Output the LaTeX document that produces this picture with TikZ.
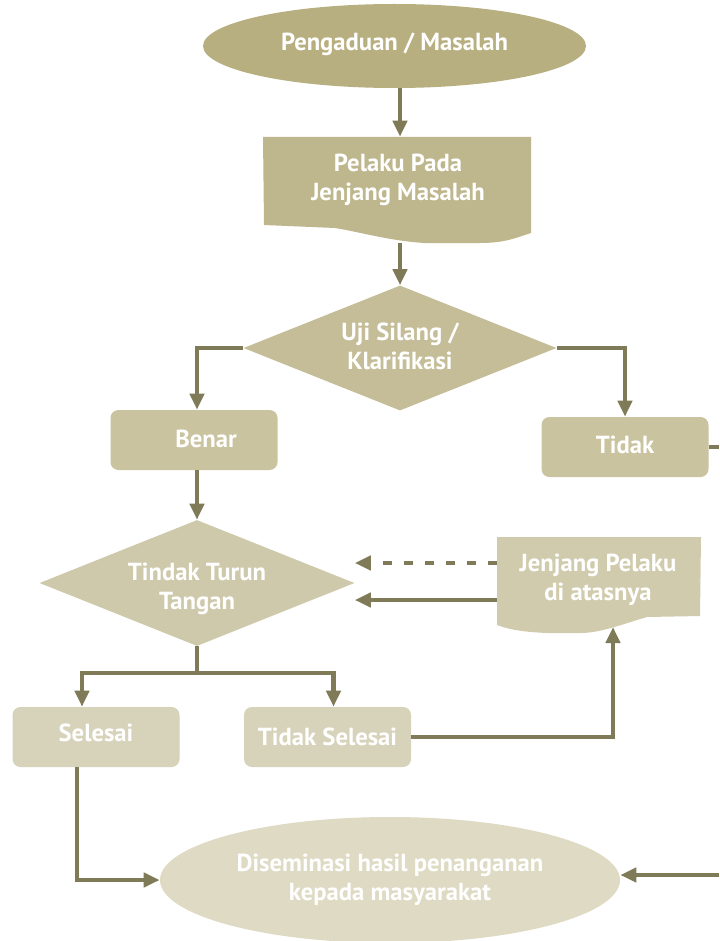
\documentclass[tikz,border=0pt]{standalone}
\usepackage{fontspec}
\setmainfont{PT Sans}
\usetikzlibrary{shapes.geometric,arrows.meta}
\definecolor{lnc}{HTML}{7F7A57}
\definecolor{cA}{HTML}{B8AF80}
\definecolor{cB}{HTML}{BEB68C}
\definecolor{cC}{HTML}{C4BD97}
\definecolor{cD}{HTML}{CAC3A0}
\definecolor{cE}{HTML}{CFC9AC}
\definecolor{cF}{HTML}{D1CBAD}
\definecolor{cG}{HTML}{D7D2BA}
\definecolor{cH}{HTML}{DEDAC3}
\def\u{0.75pt}
\tikzset{
  lbl/.style={text=white,font=\bfseries\fontsize{18.5}{21.75}\selectfont,align=center,inner sep=0pt},
  ell/.style={ellipse,inner sep=0pt,lbl},
  dia/.style={diamond,inner sep=0pt},
  rbox/.style={rectangle,rounded corners=6pt,inner sep=0pt,lbl,minimum width=167*\u,minimum height=60*\u},
  ghost/.style={rectangle,inner sep=0pt},
  conn/.style={draw=lnc,line width=3.2pt},
  arr/.style={conn,-{Triangle[length=12pt,width=10.5pt]}},
}
\begin{document}
\begin{tikzpicture}[x=0.75pt,y=-0.75pt]
\useasboundingbox (0,0) rectangle (719,941);
\fill[white] (0,0) rectangle (719,941);

% start ellipse
\node[ell,fill=cA,minimum width=383*\u,minimum height=84*\u] (start) at (394.5,46) {\raisebox{7pt}{Pengaduan / Masalah}};

% Pelaku document
\fill[cB] (263,137) -- (531,137) -- (531,233) .. controls (515,238) and (505,243) .. (480,243) -- (425,243) .. controls (390,241) and (360,232) .. (335,228) -- (264,225) -- cycle;
\node[ghost,minimum width=268*\u,minimum height=106*\u] (pelaku) at (400,190) {};
\node[lbl] (pelakut) at (398,180) {Pelaku Pada\\Jenjang Masalah};

% Uji diamond
\node[dia,fill=cC,minimum width=313*\u,minimum height=125*\u] (uji) at (400,348) {};
\node[lbl] (ujit) at (400,346) {Uji Silang /\\Klarifikasi};

% Benar / Tidak
\node[rbox,fill=cD] (benar) at (194,440) {\hspace*{18pt}\raisebox{2pt}{Benar}};
\node[rbox,fill=cD] (tidak) at (625,447) {\raisebox{3pt}{Tidak}};

% Tindak diamond
\node[dia,fill=cE,minimum width=315*\u,minimum height=126*\u] (tindak) at (197,583) {};
\node[lbl] (tindakt) at (197,589) {Tindak Turun\\Tangan};

% Jenjang document
\fill[cF] (497,537) -- (701,537) -- (700,616) -- (647,617) .. controls (620,625) and (600,633) .. (580,633) -- (547,633) .. controls (525,632) and (510,630) .. (497,625) -- cycle;
\node[ghost,minimum width=204*\u,minimum height=96*\u] (jenjang) at (599,585) {};
\node[lbl] (jenjangt) at (598,580) {Jenjang Pelaku\\di atasnya};

% Selesai / Tidak Selesai
\node[rbox,fill=cG] (selesai) at (96,737) {\raisebox{6pt}{Selesai}};
\node[rbox,fill=cG] (tselesai) at (327.5,737) {Tidak Selesai};

% Diseminasi ellipse
\node[ell,fill=cH,minimum width=460*\u,minimum height=126*\u] (dis) at (390,880) {Diseminasi hasil penanganan\\kepada masyarakat};

% coordinates
\coordinate (offr1) at (719,450);
\coordinate (offr2) at (719,875);
\coordinate (jin) at (613,627);
\coordinate (jd) at ([yshift=16.5pt]jenjang.west);
\coordinate (js) at ([yshift=-11.25pt]jenjang.west);
\coordinate (split) at ([yshift=-20pt]tindak.south);

% connectors
\draw[arr] (pelaku.north |- start.south) -- (pelaku.north);
\draw[arr] (pelaku.south) -- (uji.north);
\draw[arr] (uji.west) -| (tindak.north |- benar.north);
\draw[arr] (uji.east) -| (tidak.north);
\draw[conn] (tidak.east) -- (tidak.east -| offr1);
\draw[arr] (tindak.north |- benar.south) -- (tindak.north);
\draw[conn] (tindak.south) -- (split);
\draw[arr] (split) -| ([xshift=-10.5pt]selesai.north);
\draw[arr] (split) -| ([xshift=4.5pt]tselesai.north);
\draw[arr] (tselesai.east) -| (jin);
\draw[arr,dash pattern=on 6.75pt off 9pt] (jd) -- (tindak.east |- jd);
\draw[arr] (js) -- (tindak.east |- js);
\draw[arr] ([xshift=-14.25pt]selesai.south) |- (dis.west);
\draw[arr] (offr2) -- (dis.east |- offr2);
\end{tikzpicture}
\end{document}
